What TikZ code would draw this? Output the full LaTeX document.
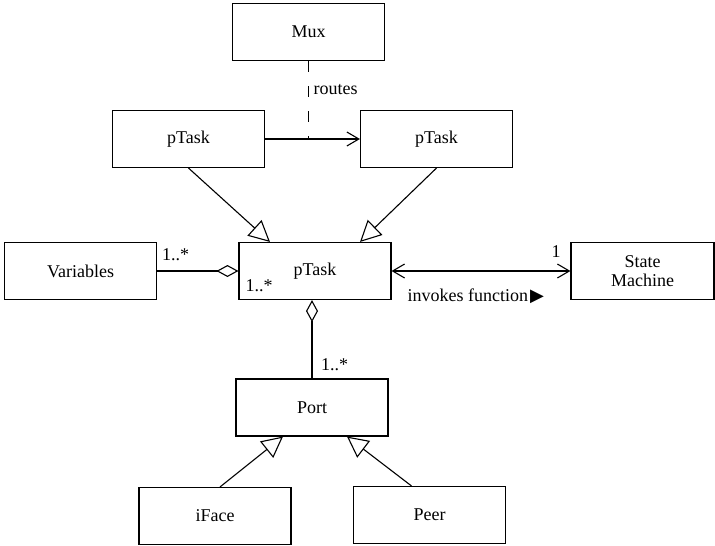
\documentclass[tikz,border=0pt]{standalone}
\usepackage{fontspec}
\setmainfont{Liberation Serif}
\newfontfamily\symfont{DejaVu Sans}
\usetikzlibrary{arrows.meta}

\begin{document}
\begin{tikzpicture}[x=1pt, y=-1pt, line width=1.1pt,
  cls/.style={draw, minimum width=152pt, minimum height=57pt, inner sep=2pt,
    font=\fontsize{18}{19}\selectfont, align=center},
  lbl/.style={font=\fontsize{18}{19}\selectfont, inner sep=0pt},
  gen/.style={-{Triangle[open, length=21pt, width=21pt]}},
  agg/.style={-{Diamond[open, length=22pt, width=12pt]}},
  nav/.style={-{Straight Barb[length=12pt, width=14pt]}},
  navboth/.style={{Straight Barb[length=12pt, width=14pt]}-{Straight Barb[length=12pt, width=14pt]}},
  routed/.style={dash pattern=on 11pt off 14pt}]

\useasboundingbox (0,0) rectangle (715,546);

% classes
\node[cls] (mux)   at (308.5, 32)  {Mux};
\node[cls] (ptl)   at (188.5, 139) {pTask};
\node[cls] (ptr)   at (436.5, 139) {pTask};
\node[cls] (ptc)   at (315, 271)   {pTask};
\node[cls] (var)   at (80.5, 271)  {Variables};
\node[cls, minimum width=143pt] (sm) at (642.5, 271) {State\\Machine};
\node[cls] (port)  at (312, 407.5) {Port};
\node[cls] (iface) at (215, 516)   {iFace};
\node[cls] (peer)  at (429.5, 515) {Peer};

% routing between tasks
\coordinate (junc) at (mux.south |- ptl.east);
\draw[nav] (ptl.east) -- (ptr.west);
\draw[routed] (mux.south) -- (junc);
\node[lbl, anchor=west] (routes) at (313, 90) {routes};

% inheritance of the central task
\draw[gen] (ptl.south) -- ([xshift=-45pt]ptc.north);
\draw[gen] (ptr.south) -- ([xshift=45pt]ptc.north);

% aggregations
\draw[agg] (var.east) -- (ptc.west);
\draw[agg] (port.north) -- (port.north |- ptc.south);
\node[lbl] (mvar)  at (175.5, 255) {1..*};
\node[lbl] (mtask) at (259, 286)   {1..*};
\node[lbl] (mport) at (334.5, 365) {1..*};

% state machine association
\draw[navboth] (ptc.east) -- (sm.west);
\node[lbl] (msm) at (556, 252) {1};
\node[lbl, anchor=west] (inv) at (407, 296) {invokes function\kern2pt{\symfont ▶}};

% port specialisations
\draw[gen] ([xshift=5pt]iface.north) -- ([xshift=-29pt]port.south);
\draw[gen] ([xshift=-18pt]peer.north) -- ([xshift=35pt]port.south);
\end{tikzpicture}
\end{document}
